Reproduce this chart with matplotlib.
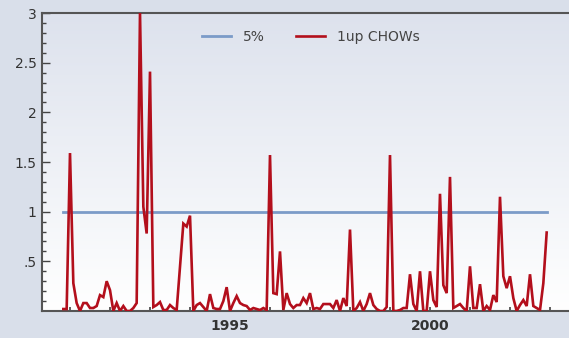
import numpy as np
import pandas as pd
import matplotlib
matplotlib.use("Agg")
import matplotlib.pyplot as plt
from matplotlib.colors import LinearSegmentedColormap

# monthly Chow statistics, Nov 1990 .. Dec 2002
chow = [
    0.02, 0.02, 1.59, 0.28, 0.08, 0.00, 0.08, 0.08, 0.03, 0.03,
    0.05, 0.16, 0.14, 0.30, 0.21, 0.00, 0.08, 0.00, 0.05, 0.00,
    0.00, 0.03, 0.08, 3.00, 1.05, 0.78, 2.41, 0.04, 0.06, 0.09,
    0.01, 0.01, 0.06, 0.03, 0.01, 0.45, 0.88, 0.85, 0.96, 0.00,
    0.06, 0.08, 0.04, 0.00, 0.17, 0.03, 0.02, 0.02, 0.10, 0.24,
    0.00, 0.08, 0.15, 0.08, 0.06, 0.05, 0.01, 0.03, 0.02, 0.01,
    0.03, 0.01, 1.57, 0.18, 0.17, 0.60, 0.01, 0.18, 0.07, 0.03,
    0.06, 0.06, 0.13, 0.08, 0.18, 0.02, 0.03, 0.02, 0.07, 0.07,
    0.07, 0.03, 0.11, 0.00, 0.13, 0.05, 0.82, 0.00, 0.03, 0.09,
    0.00, 0.07, 0.18, 0.06, 0.02, 0.00, 0.00, 0.04, 1.57, 0.00,
    0.00, 0.01, 0.03, 0.03, 0.37, 0.07, 0.00, 0.40, 0.00, 0.00,
    0.40, 0.11, 0.04, 1.18, 0.26, 0.18, 1.35, 0.03, 0.05, 0.07,
    0.03, 0.00, 0.45, 0.03, 0.03, 0.27, 0.00, 0.05, 0.01, 0.16,
    0.09, 1.15, 0.35, 0.23, 0.35, 0.13, 0.00, 0.06, 0.11, 0.05,
    0.37, 0.05, 0.03, 0.01, 0.28, 0.79,
]
crit_5pct = 1.0
dates = pd.date_range("1990-11-01", periods=len(chow), freq="MS")
t = dates.year + (dates.month - 1) / 12

year_ticks = list(range(1991, 2004))
year_labels = ["1995" if y == 1995 else "2000" if y == 2000 else "" for y in year_ticks]
y_ticks = [0.5, 1, 1.5, 2, 2.5, 3]
y_labels = [".5", "1", "1.5", "2", "2.5", "3"]

bg = "#d9dfea"
fig = plt.figure(figsize=(5.69, 3.38), dpi=100, facecolor=bg)
ax = fig.add_axes([42 / 569, 27 / 338, 527 / 569, 298 / 338])
ax.set_facecolor("white")

# vertical gradient in the plot area
grad = LinearSegmentedColormap.from_list("g", ["#ffffff", "#dde2ed"])
ax.imshow(np.linspace(0, 1, 256).reshape(-1, 1), cmap=grad, origin="lower",
          extent=[0, 1, 0, 1], transform=ax.transAxes, aspect="auto", zorder=0)

ax.plot(t, [crit_5pct] * len(t), color="#7b9bc8", lw=2.0, label="5%", zorder=2)
ax.plot(t, chow, color="#b30f1c", lw=1.9, label="1up CHOWs", zorder=3,
        solid_joinstyle="miter")

ax.set_xlim(1990.3, 2003.475)
ax.set_ylim(0, 3)

ax.set_xticks(year_ticks)
ax.set_xticklabels(year_labels, fontweight="bold", fontsize=10, color="#333333")
ax.set_yticks(y_ticks)
ax.set_yticklabels(y_labels, fontsize=10, color="#333333")
ax.set_yticks(np.arange(0.1, 3.0, 0.1), minor=True)
ax.tick_params(axis="x", direction="in", length=3, width=1.2, color="#444444", pad=6)
ax.tick_params(axis="y", which="major", direction="in", length=6, width=1.0,
               color="#444444", pad=4)
ax.tick_params(axis="y", which="minor", direction="in", length=3, width=1.0,
               color="#444444")

for side in ["left", "bottom", "top"]:
    ax.spines[side].set_color("#555555")
    ax.spines[side].set_linewidth(1.5)
ax.spines["right"].set_visible(False)

leg = ax.legend(loc="upper center", bbox_to_anchor=(0.51, 0.985), ncol=2,
                frameon=False, fontsize=10, handlelength=2.1, columnspacing=2.3,
                handletextpad=0.8)
for txt in leg.get_texts():
    txt.set_color("#444444")

fig.savefig("out.png", dpi=100, facecolor=bg)
